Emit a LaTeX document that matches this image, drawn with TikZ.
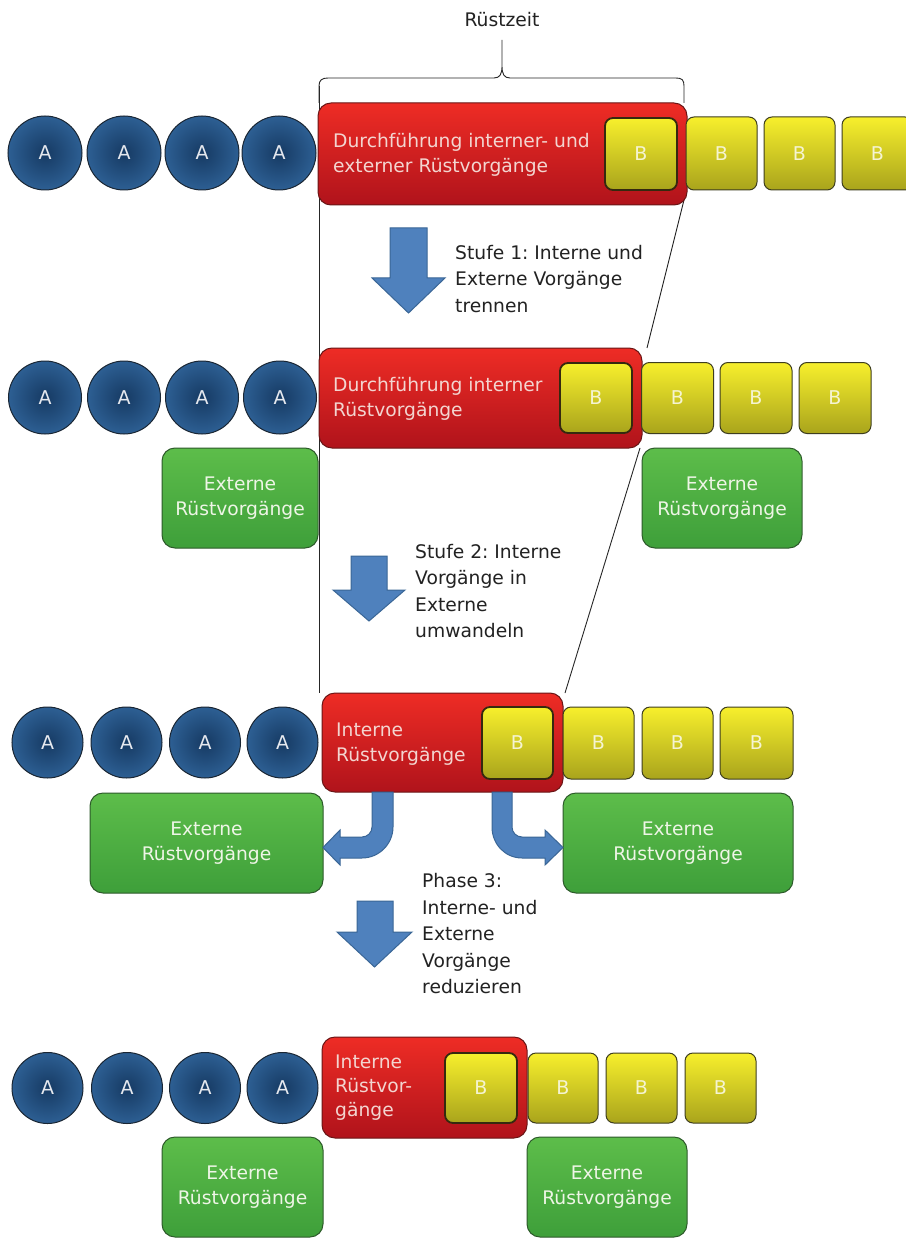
\documentclass[tikz,border=0pt]{standalone}
\usepackage{fontspec}
\setmainfont{DejaVu Sans}
\frenchspacing
\definecolor{circin}{HTML}{163A63}
\definecolor{circout}{HTML}{2D5F93}
\definecolor{circline}{HTML}{1A2633}
\definecolor{circtext}{HTML}{E6E9EF}
\definecolor{redtop}{HTML}{EE2C25}
\definecolor{redbot}{HTML}{B0131B}
\definecolor{redline}{HTML}{6A1616}
\definecolor{redtext}{HTML}{F3D5D0}
\definecolor{yeltop}{HTML}{F7EF2C}
\definecolor{yelmid}{HTML}{E3DA25}
\definecolor{yelbot}{HTML}{A9A41C}
\definecolor{yelline}{HTML}{3E3E1E}
\definecolor{yelinner}{HTML}{35290F}
\definecolor{yeltext}{HTML}{F5F4D2}
\definecolor{grntop}{HTML}{5DBD4A}
\definecolor{grnbot}{HTML}{3E9F3A}
\definecolor{grnline}{HTML}{2D5A2A}
\definecolor{grntext}{HTML}{EEF5E6}
\definecolor{arrfill}{HTML}{4F81BD}
\definecolor{arrline}{HTML}{3A6696}
\definecolor{labeltext}{HTML}{222222}
\begin{document}
\begin{tikzpicture}[x=1pt,y=-1pt,
  acirc/.style={circle, minimum size=#1, inner sep=0pt, draw=circline, line width=1pt,
    inner color=circin, outer color=circout, text=circtext, font=\fontsize{19}{19}\selectfont},
  acirc/.default=73pt,
  bsq/.style={rounded corners=8pt, inner sep=0pt, draw=yelline, line width=1pt,
    top color=yeltop, middle color=yelmid, bottom color=yelbot, text=yeltext,
    font=\fontsize{19}{19}\selectfont},
  binner/.style={bsq, line width=1.8pt, draw=yelinner},
  rbox/.style={rounded corners=13pt, inner sep=0pt, draw=redline, line width=1pt,
    top color=redtop, middle color=redtop!92!redbot, bottom color=redbot},
  rtext/.style={anchor=west, inner sep=0pt, align=left, text=redtext,
    font=\fontsize{18.7}{25}\selectfont},
  gbox/.style={rounded corners=13pt, inner sep=0pt, draw=grnline, line width=1pt,
    top color=grntop, bottom color=grnbot, text=grntext, align=center,
    font=\fontsize{18.7}{25}\selectfont},
  steptext/.style={anchor=west, inner sep=0pt, align=left, text=labeltext,
    font=\fontsize{18.7}{26.5}\selectfont},
  blockarrow/.style={fill=arrfill, draw=arrline, line width=1pt, line join=miter},
  guide/.style={draw=black!85, line width=0.9pt},
]
\useasboundingbox[fill=white] (0,0) rectangle (905,1238);

% guide lines of the set-up time funnel
\coordinate (bl) at (319,103);
\coordinate (bltop) at (319,86);
\coordinate (blbot) at (319,693);
\coordinate (br) at (684,103);
\coordinate (s1a) at (684,200);
\coordinate (s1b) at (647,348);
\coordinate (s2a) at (640,448);
\coordinate (s2b) at (565,693);
\draw[guide] (bltop) -- (blbot);
\draw[guide] (s1a) -- (s1b);
\draw[guide] (s2a) -- (s2b);
\draw[guide] (bl) -- (bltop) .. controls (319,80) and (322,78) .. (328,78) -- (494,78)
  .. controls (500,78) and (502,74) .. (502,66) -- (502,40) -- (502,66)
  .. controls (502,74) and (504,78) .. (510,78) -- (676,78)
  .. controls (682,78) and (684,80) .. (684,86) -- (br);
\node[text=labeltext, font=\fontsize{18.7}{25}\selectfont, anchor=base] (ruest) at (502,27) {Rüstzeit};

% ---- row 1: internal and external set-up together
\foreach \x [count=\i] in {45,124,202,279} \node[acirc=74pt] (a1\i) at (\x,153) {A};
\node[rbox, minimum width=369pt, minimum height=102pt] (r1) at (502.5,154) {};
\node[rtext] (r1t) at (333,155) {Durchführung interner- und\\externer Rüstvorgänge};
\node[binner, minimum width=72pt, minimum height=72pt] (r1b) at (641,154) {B};
\foreach \x [count=\i] in {721.5,799.5,877.5} \node[bsq, minimum width=71pt, minimum height=73pt] (b1\i) at (\x,153.5) {B};

% step 1 arrow and caption
\draw[blockarrow] (390,228) -- (427,228) -- (427,278) -- (445,278) -- (408.5,313) -- (372,278) -- (390,278) -- cycle;
\node[steptext] (t1) at (455,279) {Stufe 1: Interne und\\Externe Vorgänge\\trennen};

% ---- row 2: internal and external separated
\foreach \x [count=\i] in {45,124,202,280} \node[acirc=73pt] (a2\i) at (\x,397.5) {A};
\node[rbox, minimum width=323pt, minimum height=100pt] (r2) at (480.5,398) {};
\node[rtext] (r2t) at (333,399) {Durchführung interner\\Rüstvorgänge};
\node[binner, minimum width=72pt, minimum height=70pt] (r2b) at (596,398) {B};
\foreach \x [count=\i] in {677.5,756,835} \node[bsq, minimum width=72pt, minimum height=71pt] (b2\i) at (\x,398) {B};
\node[gbox, minimum width=156pt, minimum height=100pt] (g2l) at (240,498) {Externe\\Rüstvorgänge};
\node[gbox, minimum width=160pt, minimum height=100pt] (g2r) at (722,498) {Externe\\Rüstvorgänge};

% step 2 arrow and caption
\draw[blockarrow] (351,556) -- (387,556) -- (387,590) -- (405,590) -- (369,621) -- (333,590) -- (351,590) -- cycle;
\node[steptext] (t2) at (415,591) {Stufe 2: Interne\\Vorgänge in\\Externe\\umwandeln};

% ---- row 3: internal converted to external
\foreach \x [count=\i] in {47.5,126.5,205,282.5} \node[acirc=71pt] (a3\i) at (\x,742.5) {A};
\node[rbox, minimum width=241pt, minimum height=99pt] (r3) at (442.5,742.5) {};
\node[rtext] (r3t) at (336,744) {Interne\\Rüstvorgänge};
\node[binner, minimum width=71pt, minimum height=72pt] (r3b) at (517.5,743) {B};
\foreach \x/\w [count=\i] in {598.5/71,677.5/71,756.5/73} \node[bsq, minimum width=\w pt, minimum height=72pt] (b3\i) at (\x,743) {B};
\node[gbox, minimum width=233pt, minimum height=100pt] (g3l) at (206.5,843) {Externe\\Rüstvorgänge};
\node[gbox, minimum width=230pt, minimum height=100pt] (g3r) at (678,843) {Externe\\Rüstvorgänge};

% bent arrows from internal to external
\draw[blockarrow] (372,792) -- (372,827) .. controls (372,832.5) and (367.5,837) .. (362,837)
  -- (340,837) -- (340,830) -- (323,847.5) -- (340,865) -- (340,858) -- (362,858)
  .. controls (379,858) and (393,844) .. (393,827) -- (393,792) -- cycle;
\draw[blockarrow] (512,792) -- (512,827) .. controls (512,832.5) and (516.5,837) .. (522,837)
  -- (545,837) -- (545,830) -- (563,847.5) -- (545,865) -- (545,858) -- (522,858)
  .. controls (505,858) and (492,844) .. (492,827) -- (492,792) -- cycle;

% phase 3 arrow and caption
\draw[blockarrow] (357,901) -- (393,901) -- (393,932) -- (412,932) -- (374.5,967) -- (337,932) -- (357,932) -- cycle;
\node[steptext] (t3) at (422,934) {Phase 3:\\Interne- und\\Externe\\Vorgänge\\reduzieren};

% ---- row 4: internal and external reduced
\foreach \x [count=\i] in {47.5,127,205,282.5} \node[acirc=71pt] (a4\i) at (\x,1088) {A};
\node[rbox, minimum width=205pt, minimum height=101pt] (r4) at (424.5,1087.5) {};
\node[rtext, font=\fontsize{18.7}{24}\selectfont] (r4t) at (335,1088) {Interne\\Rüstvor-\\gänge};
\node[binner, minimum width=72pt, minimum height=70pt] (r4b) at (481,1088) {B};
\foreach \x/\w [count=\i] in {563/70,641.5/71,720.5/71} \node[bsq, minimum width=\w pt, minimum height=70pt] (b4\i) at (\x,1088) {B};
\node[gbox, minimum width=161pt, minimum height=100pt] (g4l) at (242.5,1187) {Externe\\Rüstvorgänge};
\node[gbox, minimum width=160pt, minimum height=100pt] (g4r) at (607,1187) {Externe\\Rüstvorgänge};
\end{tikzpicture}
\end{document}
